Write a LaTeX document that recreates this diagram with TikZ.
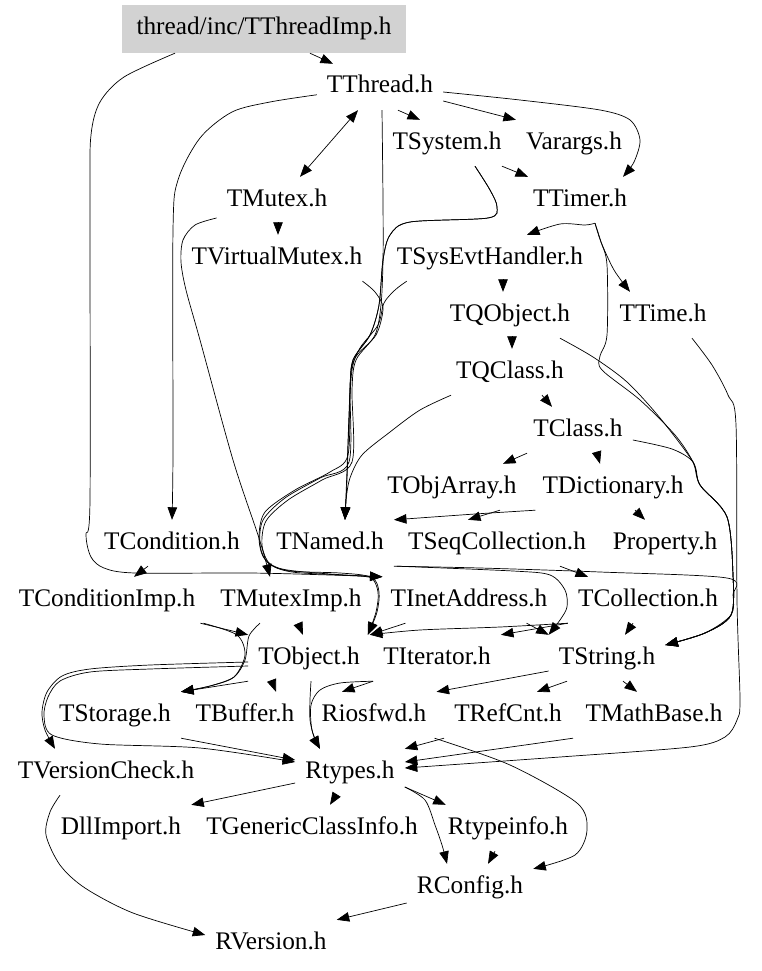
\documentclass[tikz,border=0pt]{standalone}
\usepackage{fontspec}
\setmainfont{Liberation Serif}
\usetikzlibrary{arrows.meta}
\begin{document}
\begin{tikzpicture}[x=1pt,y=-1pt,
  nd/.style={inner xsep=10pt, inner ysep=0pt, minimum height=46pt, text height=17pt, text depth=5pt, font=\fontsize{25.3pt}{30pt}\selectfont},
  e/.style={line width=0.7pt, -{Triangle[length=12.5pt,width=9.5pt]}},
  be/.style={line width=0.7pt, {Triangle[length=12.5pt,width=9.5pt]}-{Triangle[length=12.5pt,width=9.5pt]}},
  sm/.style={smooth, tension=0.5}]
\fill[white] (0,0) rectangle (761,971);
\useasboundingbox (0,0) rectangle (761,971);
% nodes
\node[nd, fill=gray!35, minimum width=284pt, minimum height=48pt] (TThreadImp) at (264,29) {thread/inc/TThreadImp.h};
\node[nd] (TThread) at (380,87) {TThread.h};
\node[nd] (TSystem) at (447,143) {TSystem.h};
\node[nd] (Varargs) at (574,143) {Varargs.h};
\node[nd] (TTimer) at (580,200) {TTimer.h};
\node[nd] (TMutex) at (277,200) {TMutex.h};
\node[nd] (TVirtualMutex) at (277,258) {TVirtualMutex.h};
\node[nd] (TSysEvtHandler) at (490,258) {TSysEvtHandler.h};
\node[nd] (TQObject) at (510,315) {TQObject.h};
\node[nd] (TTime) at (663,315) {TTime.h};
\node[nd] (TQClass) at (510,372) {TQClass.h};
\node[nd] (TClass) at (578,430) {TClass.h};
\node[nd] (TObjArray) at (452,487) {TObjArray.h};
\node[nd] (TDictionary) at (613,487) {TDictionary.h};
\node[nd] (TCondition) at (172,543) {TCondition.h};
\node[nd] (TNamed) at (330,543) {TNamed.h};
\node[nd] (TSeqCollection) at (497,543) {TSeqCollection.h};
\node[nd] (Property) at (665,543) {Property.h};
\node[nd] (TConditionImp) at (107,600) {TConditionImp.h};
\node[nd] (TMutexImp) at (291,600) {TMutexImp.h};
\node[nd] (TInetAddress) at (469,600) {TInetAddress.h};
\node[nd] (TCollection) at (648,600) {TCollection.h};
\node[nd] (TObject) at (309,658) {TObject.h};
\node[nd] (TIterator) at (437,658) {TIterator.h};
\node[nd] (TString) at (607,658) {TString.h};
\node[nd] (TStorage) at (115,715) {TStorage.h};
\node[nd] (TBuffer) at (245,715) {TBuffer.h};
\node[nd] (Riosfwd) at (374,715) {Riosfwd.h};
\node[nd] (TRefCnt) at (508,715) {TRefCnt.h};
\node[nd] (TMathBase) at (654,715) {TMathBase.h};
\node[nd] (TVersionCheck) at (106,772) {TVersionCheck.h};
\node[nd] (Rtypes) at (350,772) {Rtypes.h};
\node[nd] (DllImport) at (121,828) {DllImport.h};
\node[nd] (TGenericClassInfo) at (312,828) {TGenericClassInfo.h};
\node[nd] (Rtypeinfo) at (508,828) {Rtypeinfo.h};
\node[nd] (RConfig) at (470,887) {RConfig.h};
\node[nd] (RVersion) at (271,943) {RVersion.h};
% edges (top)
\draw[e] ([xshift=46pt]TThreadImp.south) -- ([xshift=-47pt]TThread.north);
\draw[e] plot[sm] coordinates {([xshift=-89pt]TThreadImp.south) (124,77) (100,102) (91,135) (90,200) (90,500) (86,535) (91,557) (104,568) (135,573) (250,573) (330,575) ([xshift=2pt]TInetAddress.north west)};
\draw[e] plot[sm] coordinates {(TThread.187) (270,102) (232,112) (200,138) (178,180) (173,230) (173,450) (TCondition.north)};
\draw[be] ([xshift=-22pt]TThread.south) -- ([xshift=23pt]TMutex.north);
\draw[e] ([xshift=18pt]TThread.south) -- ([xshift=-27pt]TSystem.north);
\draw[e] ([yshift=-14pt]TThread.east) -- (Varargs.north west);
\draw[e] plot[sm] coordinates {([yshift=-5pt]TThread.east) (520,100) (600,110) (630,120) (640,140) (634,162) ([xshift=43pt]TTimer.north)};
\draw[e] ([xshift=55pt]TSystem.south) -- ([xshift=-52pt]TTimer.north);
% TSystem band
\draw[e] plot[sm] coordinates {([xshift=28pt]TSystem.south) (490,190) (497,207) (488,218) (410,222) (390,235) (383,260) (379,305) (370,335) (353,360) (350,390) (347,470) ([xshift=15pt]TNamed.north)};
\draw[e] plot[sm] coordinates {([xshift=28pt]TSystem.south) (490,190) (497,207) (488,218) (410,222) (390,235) (383,260) (379,305) (370,335) (353,360) (350,390) (348,455) (330,472) (295,490) (265,512) (259,537) (264,558) (282,569) (330,574) ([xshift=2pt]TInetAddress.north west)};
% TTimer
\draw[e] plot[sm] coordinates {([xshift=15pt]TTimer.south) (585,225) (560,224) ([xshift=37pt]TSysEvtHandler.north)};
\draw[e] plot[sm] coordinates {([xshift=15pt]TTimer.south) (601,242) (614,270) ([xshift=-33pt]TTime.north)};
\draw[e] plot[sm] coordinates {([xshift=15pt]TTimer.south) (601,242) (607,265) (607,335) (600,356) (602,370) (640,400) (675,435) (693,462) (700,485) (727,517) (733,575) (731,615) (705,633) ([yshift=13pt]TString.east)};
\draw[e] plot[sm] coordinates {([xshift=50pt]TQObject.south) (593,357) (627,382) (660,418) (693,462) (700,485) (727,517) (733,575) (731,615) (705,633) ([yshift=13pt]TString.east)};
\draw[e] plot[sm] coordinates {([yshift=-10pt]TClass.east) (672,449) (693,462) (700,485) (727,517) (733,575) (731,615) (705,633) ([yshift=13pt]TString.east)};
% TTime -> Rtypes
\draw[e] plot[sm] coordinates {([xshift=29pt]TTime.south) (712,365) (728,395) (736,425) (737,600) (740,700) (737,720) (725,737) (690,747) (560,757) ([yshift=4pt]Rtypes.east)};
% mutex
\draw[e] ([xshift=1pt]TMutex.south) -- ([xshift=1pt]TVirtualMutex.north);
\draw[e] plot[sm] coordinates {([yshift=-18pt]TMutex.west) (195,225) (183,240) (181,262) (186,290) (200,340) (233,460) (258,535) (266,562) ([xshift=-21pt]TMutexImp.north)};
\draw[e] plot[sm] coordinates {([xshift=-10pt]TVirtualMutex.south east) (375,292) (383,308) (376,335) (355,358) (350,385) (349,462) (320,478) (285,498) (263,520) (260,545) (268,563) (290,571) (340,573) (370,577) (378,592) (376,612) ([xshift=-2pt]TObject.north east)};
\draw[e] plot[sm] coordinates {([xshift=2pt]TThread.south) (383,200) (383,260) (381,305) (375,335) (356,360) (352,390) (352,462) (322,480) (288,500) (266,521) (262,545) (270,564) (292,572) (340,575) (372,578) (379,592) (377,612) ([xshift=-2pt]TObject.north east)};
\draw[e] plot[sm] coordinates {([xshift=20pt]TSysEvtHandler.south west) (395,290) (384,303) (378,325) (360,348) (352,370) (349,420) (347,480) ([xshift=15pt]TNamed.north)};
\draw[e] plot[sm] coordinates {([xshift=5pt]TQClass.south west) (420,410) (390,432) (362,455) (350,478) (346,500) ([xshift=15pt]TNamed.north)};
% middle chain
\draw[e] ([xshift=13pt]TSysEvtHandler.south) -- ([xshift=-7pt]TQObject.north);
\draw[e] ([xshift=2pt]TQObject.south) -- ([xshift=2pt]TQClass.north);
\draw[e] ([xshift=32pt]TQClass.south) -- ([xshift=-26pt]TClass.north);
\draw[e] ([xshift=-51pt]TClass.south) -- ([xshift=51pt]TObjArray.north);
\draw[e] ([xshift=19pt]TClass.south) -- ([xshift=-13pt]TDictionary.north);
\draw[e] plot[sm] coordinates {([xshift=3pt]TDictionary.south west) (475,514) (TNamed.north east)};
\draw[e] ([xshift=48pt]TObjArray.south) -- ([xshift=-29pt]TSeqCollection.north);
\draw[e] ([xshift=22pt]TDictionary.south) -- ([xshift=-20pt]Property.north);
\draw[e] ([xshift=63pt]TSeqCollection.south) -- ([xshift=-60pt]TCollection.north);
\draw[e] plot[sm] coordinates {(TNamed.south east) (480,568) (600,572) (727,578) (733,595) (731,615) (705,633) ([yshift=13pt]TString.east)};
\draw[e] plot[sm] coordinates {([xshift=3pt]TNamed.south east) (513,571) (550,575) (565,590) (567,607) (560,620) (TString.north west)};
\draw[e] ([xshift=25pt]TInetAddress.south west) -- (TObject.north east);
\draw[e] plot[sm] coordinates {(TCollection.south west) (500,627) (420,630) (TObject.north east)};
\draw[e] (TCollection.south west) -- (TIterator.north east);
\draw[e] ([xshift=-31pt]TInetAddress.south east) -- (TString.north west);
\draw[e] ([xshift=-15pt]TCollection.south) -- ([xshift=18pt]TString.north);
% condition
\draw[e] ([xshift=-24pt]TCondition.south) -- ([xshift=27pt]TConditionImp.north);
\draw[e] ([xshift=-5pt]TConditionImp.south east) -- (TObject.north west);
\draw[e] plot[sm] coordinates {([xshift=-2pt]TConditionImp.south east) (237,635) (245,655) (234,677) (210,686) (TStorage.north east)};
\draw[e] plot[sm] coordinates {([xshift=-31pt]TMutexImp.south) (249,636) (245,660) (234,677) (210,686) (TStorage.north east)};
\draw[e] ([xshift=7pt]TMutexImp.south) -- ([xshift=-6pt]TObject.north);
% TObject
\draw[e] (TObject.south west) -- (TStorage.north east);
\draw[e] ([xshift=-37pt]TObject.south) -- ([xshift=31pt]TBuffer.north);
\draw[e] plot[sm] coordinates {([xshift=2pt]TObject.south) (310,700) (310,720) (314,737) ([xshift=-30pt]Rtypes.north)};
\draw[e] plot[sm] coordinates {([yshift=-4pt]TObject.west) (150,665) (90,669) (62,676) (47,692) (42,712) (45,730) ([xshift=-51pt]TVersionCheck.north)};
\draw[e] plot[sm] coordinates {([yshift=-8pt]TObject.west) (150,669) (90,672) (60,681) (48,697) (44,716) (52,735) (100,744) (200,748) ([yshift=10pt]Rtypes.west)};
\draw[e] (TIterator.south west) -- ([xshift=-32pt]Riosfwd.north);
\draw[e] plot[sm] coordinates {(TIterator.south west) (340,683) (320,690) (311,705) (312,730) ([xshift=-30pt]Rtypes.north)};
% TString
\draw[e] ([yshift=-13pt]TString.west) -- (Riosfwd.north east);
\draw[e] ([xshift=-40pt]TString.south) -- ([xshift=29pt]TRefCnt.north);
\draw[e] ([xshift=16pt]TString.south) -- ([xshift=-17pt]TMathBase.north);
% lower
\draw[e] (TStorage.south east) -- ([yshift=12pt]Rtypes.west);
\draw[e] ([xshift=-81pt]TMathBase.south) -- ([yshift=10pt]Rtypes.east);
\draw[e] (TRefCnt.south west) -- (Rtypes.north east);
\draw[e] plot[sm] coordinates {([xshift=-2pt]Riosfwd.south east) (510,765) (577,803) (587,830) (575,855) ([yshift=-5pt]RConfig.north east)};
\draw[e] ([yshift=-11pt]Rtypes.west) -- (DllImport.north east);
\draw[e] ([xshift=-14pt]Rtypes.south) -- ([xshift=18pt]TGenericClassInfo.north);
\draw[e] ([yshift=-15pt]Rtypes.east) -- ([xshift=8pt]Rtypeinfo.north west);
\draw[e] plot[sm] coordinates {([yshift=-15pt]Rtypes.east) (425,800) (435,825) (442,845) ([xshift=-23pt]RConfig.north)};
\draw[e] ([xshift=-13pt]Rtypeinfo.south) -- ([xshift=18pt]RConfig.north);
\draw[e] plot[sm] coordinates {([xshift=-46pt]TVersionCheck.south) (50,812) (46,835) (60,865) (85,888) (133,913) ([yshift=8pt]RVersion.west)};
\draw[e] ([yshift=-16pt]RConfig.west) -- (RVersion.north east);
\end{tikzpicture}
\end{document}
